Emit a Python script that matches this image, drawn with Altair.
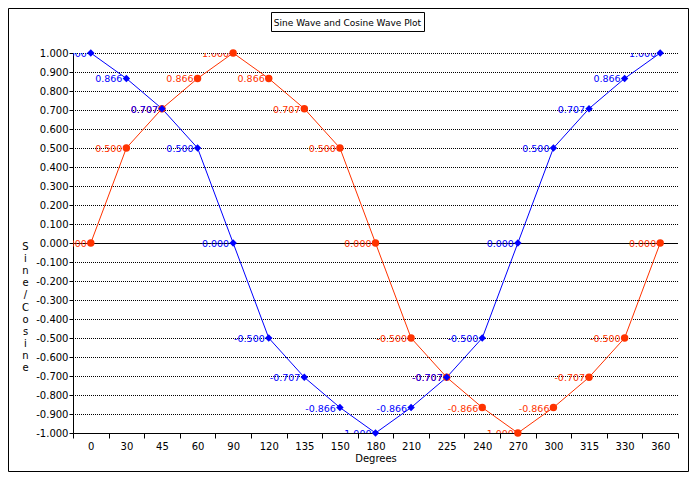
import altair as alt
import pandas as pd

degrees = [0, 30, 45, 60, 90, 120, 135, 150, 180, 210, 225, 240, 270, 300, 315, 330, 360]
sine = [0.0, 0.5, 0.707, 0.866, 1.0, 0.866, 0.707, 0.5, 0.0, -0.5, -0.707, -0.866,
        -1.0, -0.866, -0.707, -0.5, 0.0]
cosine = [1.0, 0.866, 0.707, 0.5, 0.0, -0.5, -0.707, -0.866, -1.0, -0.866, -0.707,
          -0.5, 0.0, 0.5, 0.707, 0.866, 1.0]
y_ticks = [-1.0, -0.9, -0.8, -0.7, -0.6, -0.5, -0.4, -0.3, -0.2, -0.1, 0.0,
           0.1, 0.2, 0.3, 0.4, 0.5, 0.6, 0.7, 0.8, 0.9, 1.0]
series_names = ["Sine", "Cosine"]
series_colors = ["#ff3300", "#0000ff"]
series_shapes = ["circle", "diamond"]
title_text = "Sine Wave and Cosine Wave Plot"
y_title = list("Sine/Cosine")

rows = []
for name, vals in (("Sine", sine), ("Cosine", cosine)):
    for d, v in zip(degrees, vals):
        rows.append({"deg": d, "series": name, "value": v, "label": f"{v:.3f}"})
df = pd.DataFrame(rows)

FONT = "DejaVu Sans"

y_axis = alt.Axis(values=y_ticks, tickCount=21, format=".3f", labelOverlap=False,
                  labelExpr="replace(format(datum.value, '.3f'), '\u2212', '-')",
                  grid=True, gridDash=[1, 1], gridDashOffset=0.5,
                  gridColor="black", gridOpacity=1,
                  tickSize=4, labelPadding=1,
                  title=y_title, titleAngle=0, titleAlign="center",
                  titleBaseline="middle", titleX=-48, titleY=193,
                  titleLineHeight=12.2)
y_scale = alt.Scale(domain=[-1, 1], nice=False, zero=False)

color = alt.Color("series:N", scale=alt.Scale(domain=series_names, range=series_colors), legend=None)

base = alt.Chart(df).encode(
    x=alt.X("deg:O", sort=degrees,
            scale=alt.Scale(type="band", paddingInner=0, paddingOuter=0),
            axis=alt.Axis(title="Degrees", labelAngle=0, tickBand="extent", grid=False,
                          labelOverlap=False, tickSize=5, labelPadding=3, titlePadding=2)),
    y=alt.Y("value:Q", scale=y_scale, axis=y_axis),
    color=color,
)

lines = base.mark_line(strokeWidth=1)
points = base.mark_point(filled=True, opacity=1, size=55).encode(
    shape=alt.Shape("series:N", scale=alt.Scale(domain=series_names, range=series_shapes), legend=None)
)
labels = base.mark_text(align="right", baseline="middle", dx=-4, dy=1,
                        fontSize=9.5, font=FONT, clip=True).encode(text="label:N")

zero = alt.Chart(pd.DataFrame({"value": [0.0]})).mark_rule(
    color="black", strokeWidth=1, yOffset=0.5
).encode(y=alt.Y("value:Q", scale=y_scale, axis=y_axis))

one = pd.DataFrame({"t": [title_text]})
title_box = alt.Chart(one).mark_rect(fill="white", stroke="black", strokeWidth=1).encode(
    x=alt.value(198.5), x2=alt.value(351.5), y=alt.value(-40.5), y2=alt.value(-21.5)
)
title_lbl = alt.Chart(one).mark_text(font=FONT, fontSize=9, color="black",
                                     align="center", baseline="middle").encode(
    x=alt.value(274.5), y=alt.value(-30.5), text="t:N"
)
border = alt.Chart(one).mark_rect(fill=None, stroke="black", strokeWidth=1).encode(
    x=alt.value(-64.5), x2=alt.value(615.5), y=alt.value(-44.5), y2=alt.value(418.5)
)

chart = alt.layer(zero, lines, points, labels, title_box, title_lbl, border).properties(
    width=605, height=380,
    padding={"left": 65, "top": 45, "right": 11, "bottom": 39},
    autosize=alt.AutoSizeParams(type="none"),
    background="white",
).configure_view(stroke=None).configure_axis(
    labelFont=FONT, labelFontSize=10, labelColor="black",
    titleFont=FONT, titleFontSize=10, titleFontWeight="normal", titleColor="black",
    domainColor="black", tickColor="black", domainWidth=1, tickWidth=1,
)

chart.save("out.html", embed_options={"renderer": "svg", "actions": False})
